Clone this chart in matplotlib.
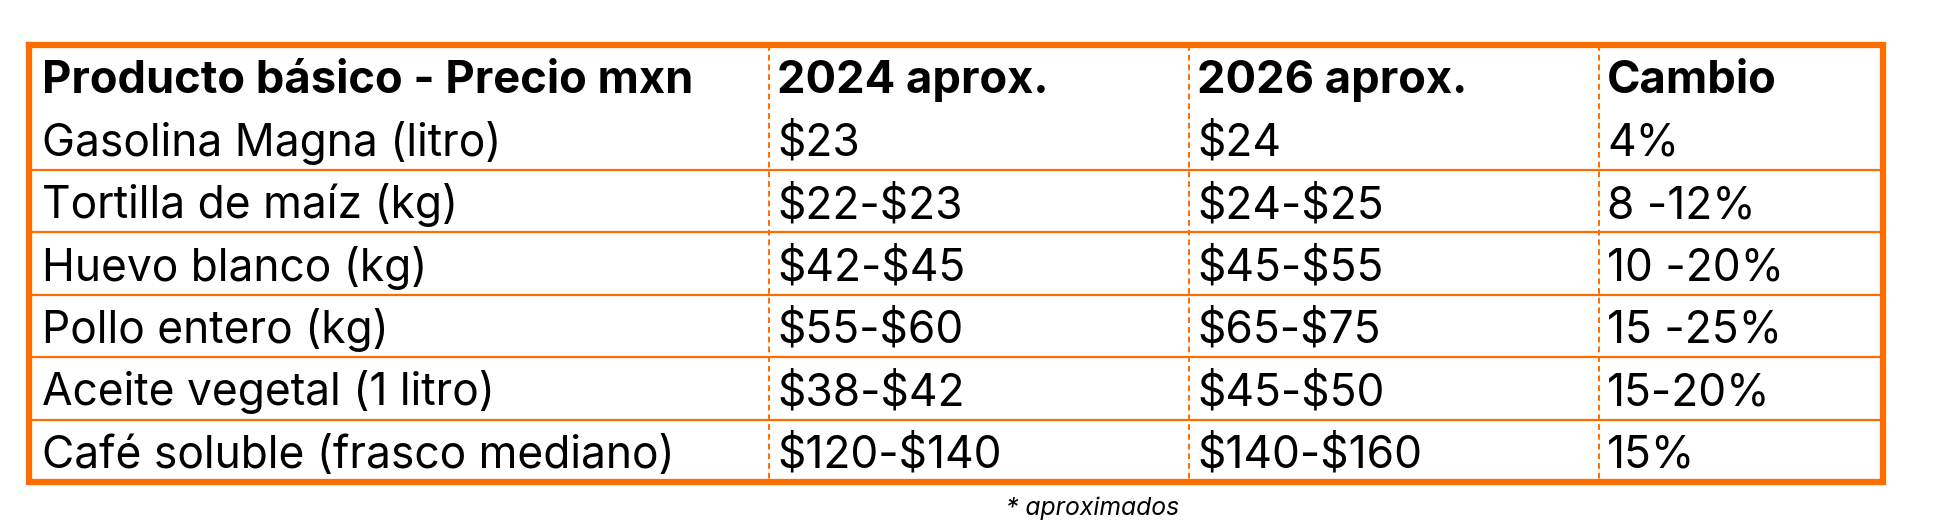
import matplotlib
matplotlib.use("Agg")
import matplotlib.pyplot as plt
from matplotlib.lines import Line2D

# table contents
headers = ["Producto básico - Precio mxn", "2024 aprox.", "2026 aprox.", "Cambio"]
productos = ["Gasolina Magna (litro)", "Tortilla de maíz (kg)", "Huevo blanco (kg)",
             "Pollo entero (kg)", "Aceite vegetal (1 litro)", "Café soluble (frasco mediano)"]
precio_2024 = ["$23", "$22-$23", "$42-$45", "$55-$60", "$38-$42", "$120-$140"]
precio_2026 = ["$24", "$24-$25", "$45-$55", "$65-$75", "$45-$50", "$140-$160"]
cambio = ["4%", "8 -12%", "10 -20%", "15 -25%", "15-20%", "15%"]
nota = "* aproximados"

ORANGE = "#ff6d00"
FONT = "Inter"
W, H = 1934, 530

fig = plt.figure(figsize=(W / 100, H / 100), dpi=100)
ax = fig.add_axes([0, 0, 1, 1])
ax.set_xlim(0, W)
ax.set_ylim(H, 0)
ax.axis("off")

# table frame in pixels
left, right, top, bottom = 29, 1883, 45, 482
col_x = [left, 769, 1189, 1599]
nrows = len(productos) + 1
rh = (bottom - top) / nrows

renderer = fig.canvas.get_renderer()


def fit_size(text, target_px, weight="normal", style="normal"):
    t = ax.text(0, 0, text, fontsize=20, family=FONT, weight=weight, style=style,
                parse_math=False)
    w = t.get_window_extent(renderer=renderer).width
    t.remove()
    return 20 * target_px / w


fs_body = fit_size("Gasolina Magna (litro)", 460)
fs_head = fit_size("Producto básico - Precio mxn", 653, weight="bold")
fs_note = fit_size(nota, 173, style="italic")

# horizontal row separators (none between header and first row)
for k in range(2, nrows):
    y = top + k * rh
    ax.add_line(Line2D([left, right], [y, y], color=ORANGE, lw=1.6, zorder=2))

# dashed column dividers
for x in col_x[1:]:
    ax.add_line(Line2D([x, x], [top, bottom], color=ORANGE, lw=1.4,
                       dashes=(3, 2), zorder=2))

# outer frame
ax.add_line(Line2D([left, right, right, left, left], [top, top, bottom, bottom, top],
                   color=ORANGE, lw=4.5, solid_joinstyle="miter", zorder=3))

pad = [13, 8, 8, 8]
for j, h in enumerate(headers):
    ax.text(col_x[j] + pad[j], top + 0.5 * rh + 17, h, fontsize=fs_head,
            family=FONT, weight="bold", va="baseline", ha="left", color="black",
            parse_math=False)

columns = [productos, precio_2024, precio_2026, cambio]
for i in range(len(productos)):
    yb = top + (i + 1.5) * rh + 17
    for j, col in enumerate(columns):
        ax.text(col_x[j] + pad[j], yb, col[i], fontsize=fs_body, family=FONT,
                va="baseline", ha="left", color="black", parse_math=False)

ax.text(1093, 515, nota, fontsize=fs_note, family=FONT, style="italic",
        ha="center", va="baseline", color="black", parse_math=False)

fig.savefig("out.png", dpi=100, facecolor="white")
